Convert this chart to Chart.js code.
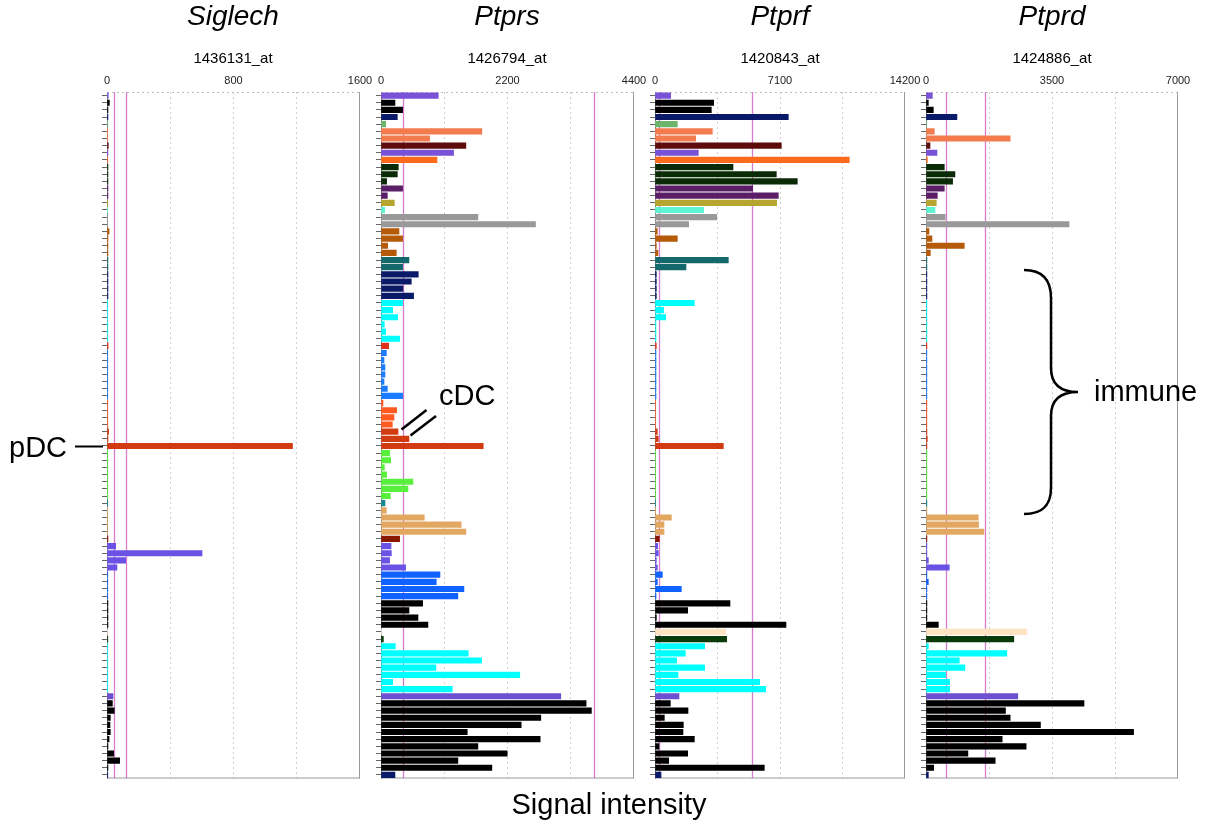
<!DOCTYPE html>
<html>
<head>
<meta charset="utf-8">
<script src="https://cdn.jsdelivr.net/npm/chart.js@4.4.1/dist/chart.umd.min.js"></script>
<style>
  body { margin: 0; background: #fff; width: 1210px; height: 825px; overflow: hidden; position: relative; font-family: "Liberation Sans", Arial, sans-serif; }
  canvas { position: absolute; }
  svg { position: absolute; left: 0; top: 0; pointer-events: none; }
</style>
</head>
<body>
<canvas id="c0"></canvas>
<canvas id="c1"></canvas>
<canvas id="c2"></canvas>
<canvas id="c3"></canvas>
<svg id="notes" width="1210" height="825" font-family="Liberation Sans, Arial, sans-serif"></svg>
<script>
// genes / probes shown above each panel
const genes = ['Siglech', 'Ptprs', 'Ptprf', 'Ptprd'];
const probes = ['1436131_at', '1426794_at', '1420843_at', '1424886_at'];
const axisMax = [1600, 4400, 14200, 7000];
const tickLabels = [['0', '800', '1600'], ['0', '2200', '4400'], ['0', '7100', '14200'], ['0', '3500', '7000']];
// the two pink reference lines in each panel
const pinkMarks = [[42, 120], [375, 3710], [227, 5500], [550, 1650]];

// 96 samples, top to bottom
const samples = Array.from({ length: 96 }, (_, i) => 'S' + (i + 1));

const PUR = '#7a52d8', BLK = '#000000', NAVY = '#0b1a68', LGRN = '#6cb56c', CORAL = '#f47b4e',
      MAROON = '#5e0b0b', ORANGE = '#ff6b1c', DGRN = '#0b2b06', DPUR = '#5a1e66', OLIVE = '#b6a52f',
      AQUA = '#5df3d3', GRAY = '#999999', BROWN = '#b45a08', TEAL = '#12686b', CYAN = '#00ffff',
      RED = '#e0321a', DBLUE = '#1a7dff', ROR = '#ff5a22', PDC = '#d23a12', GREEN = '#58f03c',
      TEAL2 = '#13898a', TAN = '#e2a862', DRED = '#8a1800', SLATE = '#6a52e4', BLUE = '#0f62ff',
      BISQUE = '#ffe4c4', DGRN2 = '#0a3a0a', PUR2 = '#6e4fd0';

const rowColors = [
  PUR, BLK, BLK, NAVY, LGRN, CORAL, CORAL, MAROON, PUR, ORANGE,
  DGRN, DGRN, DGRN, DPUR, DPUR, OLIVE, AQUA, GRAY, GRAY, BROWN,
  BROWN, BROWN, BROWN, TEAL, TEAL, NAVY, NAVY, NAVY, NAVY, CYAN,
  CYAN, CYAN, CYAN, CYAN, CYAN, RED, DBLUE, DBLUE, DBLUE, DBLUE,
  DBLUE, DBLUE, DBLUE, ROR, ROR, ROR, ROR, PDC, PDC, PDC,
  GREEN, GREEN, GREEN, GREEN, GREEN, GREEN, GREEN, TEAL2, TAN, TAN,
  TAN, TAN, DRED, SLATE, SLATE, SLATE, SLATE, BLUE, BLUE, BLUE,
  BLUE, BLK, BLK, BLK, BLK, BISQUE, DGRN2, CYAN, CYAN, CYAN,
  CYAN, CYAN, CYAN, CYAN, PUR2, BLK, BLK, BLK, BLK, BLK,
  BLK, BLK, BLK, BLK, BLK, NAVY
];

const siglech = [
  8, 15, 6, 6, 5, 5, 5, 8, 6, 5,
  6, 6, 6, 6, 6, 5, 4, 4, 4, 13,
  6, 6, 6, 6, 6, 6, 6, 6, 6, 5,
  5, 5, 5, 5, 5, 7, 5, 5, 5, 5,
  5, 5, 5, 5, 5, 5, 5, 10, 6, 1173,
  5, 5, 5, 5, 5, 5, 5, 5, 4, 4,
  4, 4, 6, 55, 601, 118, 63, 5, 5, 5,
  5, 6, 6, 6, 6, 3, 5, 5, 5, 5,
  5, 5, 5, 5, 38, 34, 46, 21, 19, 21,
  13, 6, 42, 80, 6, 5
];
const ptprs = [
  996, 243, 376, 284, 81, 1754, 845, 1476, 1262, 973,
  301, 284, 98, 376, 110, 232, 64, 1685, 2687, 313,
  376, 116, 266, 486, 376, 648, 527, 382, 567, 376,
  203, 290, 58, 81, 324, 133, 93, 52, 69, 69,
  52, 110, 376, 35, 272, 226, 197, 296, 486, 1778,
  150, 168, 58, 98, 556, 469, 162, 69, 93, 753,
  1395, 1476, 324, 174, 180, 150, 428, 1025, 961, 1442,
  1337, 724, 486, 643, 816, 8, 41, 249, 1517, 1749,
  955, 2414, 203, 1239, 3127, 3567, 3659, 2779, 2438, 1500,
  2768, 1685, 2194, 1337, 1928, 243
];
const ptprf = [
  890, 3332, 3199, 7572, 1268, 3256, 2309, 7175, 2461, 11036,
  4430, 6891, 8083, 5546, 7004, 6910, 2764, 3502, 1912, 133,
  1268, 76, 170, 4165, 1760, 76, 76, 76, 76, 2234,
  492, 606, 57, 57, 57, 76, 57, 57, 57, 57,
  57, 57, 57, 40, 40, 40, 40, 133, 189, 3881,
  38, 38, 38, 38, 38, 38, 38, 38, 20, 928,
  511, 511, 246, 151, 189, 76, 133, 416, 133, 1495,
  57, 4259, 1855, 76, 7440, 4013, 4070, 2821, 1723, 1230,
  2821, 1306, 5944, 6285, 1363, 871, 1874, 530, 1609, 1590,
  2234, 227, 1855, 776, 6209, 341
];
const ptprd = [
  176, 65, 203, 859, 10, 231, 2338, 111, 305, 37,
  508, 804, 739, 508, 314, 286, 249, 536, 3973, 83,
  166, 1063, 120, 25, 25, 25, 25, 25, 25, 25,
  25, 25, 25, 25, 25, 25, 25, 25, 25, 25,
  25, 25, 25, 25, 25, 25, 25, 25, 37, 25,
  25, 25, 25, 25, 25, 25, 25, 25, 25, 1451,
  1460, 1608, 25, 25, 25, 65, 647, 25, 65, 25,
  25, 25, 25, 25, 342, 2800, 2439, 65, 2245, 924,
  1081, 545, 656, 656, 2550, 4389, 2208, 2338, 3179, 5766,
  2116, 2781, 1164, 1922, 213, 65
];
const series = [siglech, ptprs, ptprf, ptprd];

// page placement of each panel's plot area
const panelLeft = [106.5, 380.5, 655, 926];
const panelWidth = [253, 253, 250, 252];
const plotTop = 92, axisBox = 18, yBox = 10, padRight = 26;
const plotHeight = 686.5;

const panelFrame = {
  id: 'panelFrame',
  beforeDatasetsDraw(chart, args, opts) {
    const { ctx, chartArea: a } = chart;
    const x = chart.scales.x;
    ctx.save();
    ctx.lineWidth = 1;
    ctx.strokeStyle = '#bdbdbd';
    ctx.setLineDash([2, 3]);
    ctx.beginPath();
    ctx.moveTo(a.left, a.top + 0.5);
    ctx.lineTo(a.right, a.top + 0.5);
    ctx.stroke();
    ctx.setLineDash([]);
    ctx.strokeStyle = '#9a9a9a';
    ctx.beginPath();
    ctx.moveTo(a.right - 0.5, a.top);
    ctx.lineTo(a.right - 0.5, a.bottom);
    ctx.moveTo(a.left, a.bottom - 0.5);
    ctx.lineTo(a.right, a.bottom - 0.5);
    ctx.stroke();
    ctx.strokeStyle = '#d77ccf';
    ctx.lineWidth = 1.3;
    opts.marks.forEach(v => {
      const px = Math.round(x.getPixelForValue(v)) + 0.5;
      ctx.beginPath();
      ctx.moveTo(px, a.top);
      ctx.lineTo(px, a.bottom);
      ctx.stroke();
    });
    ctx.restore();
  }
};

series.forEach((vals, p) => {
  const cv = document.getElementById('c' + p);
  const w = yBox + panelWidth[p] + padRight;
  const h = axisBox + plotHeight + 1.5;
  cv.width = Math.ceil(w);
  cv.height = Math.ceil(h);
  cv.style.left = (panelLeft[p] - yBox) + 'px';
  cv.style.top = (plotTop - axisBox) + 'px';
  const max = axisMax[p];

  new Chart(cv, {
    type: 'bar',
    data: {
      labels: samples,
      datasets: [{
        data: vals,
        backgroundColor: rowColors,
        borderWidth: 0,
        barThickness: 5.5
      }]
    },
    options: {
      indexAxis: 'y',
      responsive: false,
      animation: false,
      devicePixelRatio: 1,
      layout: { padding: { left: 0, right: cv.width - w + padRight, top: 0, bottom: cv.height - h + 1.5 } },
      plugins: {
        legend: { display: false },
        tooltip: { enabled: false },
        panelFrame: { marks: pinkMarks[p] }
      },
      scales: {
        x: {
          position: 'top',
          min: 0,
          max: max,
          afterFit: s => { s.height = axisBox; },
          ticks: {
            stepSize: max / 4,
            autoSkip: false,
            maxRotation: 0,
            padding: 4,
            color: '#222',
            font: { family: 'Liberation Sans, Arial, sans-serif', size: 11 },
            callback: (v, i) => (i % 2 === 0 ? tickLabels[p][i / 2] : '')
          },
          grid: {
            drawTicks: false,
            color: c => (c.tick && (c.tick.value === 0 || c.tick.value === max) ? 'rgba(0,0,0,0)' : '#cfcfcf')
          },
          border: { display: false, dash: [2, 3] }
        },
        y: {
          afterFit: s => { s.width = yBox; },
          ticks: { display: false },
          grid: { offset: false, drawOnChartArea: false, drawTicks: true, tickLength: 5, color: '#666' },
          border: { display: true, color: '#8a8a8a' }
        }
      }
    },
    plugins: [panelFrame]
  });
});

// titles and annotations
const svg = document.getElementById('notes');
const NS = 'http://www.w3.org/2000/svg';
function addText(str, x, y, size, anchor, italic) {
  const t = document.createElementNS(NS, 'text');
  t.setAttribute('x', x);
  t.setAttribute('y', y);
  t.setAttribute('font-size', size);
  t.setAttribute('text-anchor', anchor);
  t.setAttribute('fill', '#000');
  if (italic) t.setAttribute('font-style', 'italic');
  t.textContent = str;
  svg.appendChild(t);
}
function addPath(d, width) {
  const e = document.createElementNS(NS, 'path');
  e.setAttribute('d', d);
  e.setAttribute('fill', 'none');
  e.setAttribute('stroke', '#000');
  e.setAttribute('stroke-width', width);
  svg.appendChild(e);
}
genes.forEach((g, p) => {
  const cx = panelLeft[p] + panelWidth[p] / 2;
  addText(g, cx, 25, 28, 'middle', true);
  addText(probes[p], cx, 63, 15, 'middle', false);
});
addText('Signal intensity', 609, 814, 29, 'middle', false);
addText('pDC', 9, 457, 29, 'start', false);
addText('cDC', 439, 405, 29, 'start', false);
addText('immune', 1094, 401, 29, 'start', false);
addPath('M75,446.5 L103,446.5', 2);
addPath('M401.5,429.5 L426.5,410', 2.5);
addPath('M410.5,435.5 L436,416', 2.5);
addPath('M1024,270 C1042,270 1051,279 1051,298 L1051,368 C1051,384 1060,392 1078,392 C1060,392 1051,400 1051,416 L1051,488 C1051,506 1042,514 1024,514', 2.5);
</script>
</body>
</html>
